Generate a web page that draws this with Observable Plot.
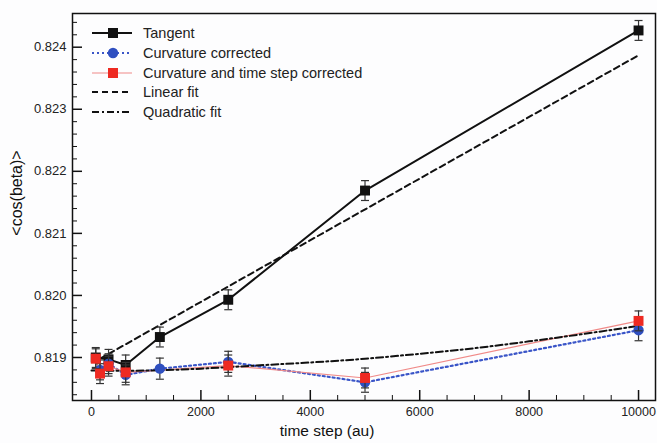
<!DOCTYPE html>
<html><head><meta charset="utf-8">
<script src="https://cdn.jsdelivr.net/npm/d3@7"></script>
<script src="https://cdn.jsdelivr.net/npm/@observablehq/plot@0.6"></script>
<style>
body{margin:0;background:#fdfdfe}
#chart{position:relative;width:657px;height:443px;font-family:"Liberation Sans",Arial,sans-serif}
#chart svg{display:block}
</style>
</head><body><div id="chart"></div>
<script>
// ---- data ----
const tangentX   = [78, 312, 625, 1250, 2500, 5000, 10000];
const tangentY   = [0.81900, 0.81897, 0.81888, 0.81933, 0.81993, 0.82169, 0.82427];
const tangentErr = [0.00016, 0.00016, 0.00016, 0.00016, 0.00016, 0.00016, 0.00016];

const curvX   = [156, 312, 625, 1250, 2500, 5000, 10000];
const curvY   = [0.81880, 0.81890, 0.81872, 0.81882, 0.81893, 0.81860, 0.81944];
const curvErr = [0.00016, 0.00016, 0.00016, 0.00017, 0.00017, 0.00016, 0.00017];

const ctsX   = [78, 156, 312, 625, 2500, 5000, 10000];
const ctsY   = [0.81898, 0.81874, 0.81886, 0.81876, 0.81887, 0.81867, 0.81959];
const ctsErr = [0.00016, 0.00016, 0.00016, 0.00016, 0.00017, 0.00016, 0.00016];

const linFitX = [156, 10000];
const linFitY = [0.81898, 0.82387];

const quadFitX = [0, 1000, 2000, 3000, 4000, 5000, 6000, 7000, 8000, 9000, 10000];
const quadFitY = [0.81879, 0.81879, 0.81882, 0.81887, 0.81892, 0.81898, 0.81906, 0.81915, 0.81926, 0.81938, 0.81951];

const xMajor = [0, 2000, 4000, 6000, 8000, 10000];
const xMinor = d3.range(0, 10001, 500).filter(v => v % 2000 !== 0);
const yMajor = [0.819, 0.820, 0.821, 0.822, 0.823, 0.824];
const yMinor = d3.range(0, 31).map(i => +(0.8184 + i * 0.0002).toFixed(4)).filter(v => Math.round(v * 10000) % 10 !== 0);

const seriesNames = ["Tangent", "Curvature corrected", "Curvature and time step corrected", "Linear fit", "Quadratic fit"];
const xTitle = "time step (au)";
const yTitle = "<cos(beta)>";

const toRows = (xs, ys, es) => xs.map((x, i) => ({x, y: ys[i], e: es ? es[i] : 0}));
const tangent = toRows(tangentX, tangentY, tangentErr);
const curv = toRows(curvX, curvY, curvErr);
const cts = toRows(ctsX, ctsY, ctsErr);
const linFit = toRows(linFitX, linFitY);
const quadFit = toRows(quadFitX, quadFitY);

const W = 657, H = 443, mL = 72, mR = 2, mT = 13, mB = 43;
const fw = W - mL - mR, fh = H - mT - mB;

const BLACK = "#111", BLUE = "#2f4fc0", BLUEDOT = "#3a55c8", RED = "#ee2a22", PINK = "#f08a88";

const cap = {draw(ctx, size) { const r = Math.sqrt(size / Math.PI); ctx.moveTo(-r, 0); ctx.lineTo(r, 0); }};

function errMarks(rows) {
  return [
    Plot.ruleX(rows, {x: "x", y1: d => d.y - d.e, y2: d => d.y + d.e, stroke: "#333", strokeWidth: 1.2}),
    Plot.dot(rows, {x: "x", y: d => d.y + d.e, symbol: cap, r: 4, stroke: "#333", strokeWidth: 1.2, fill: "none"}),
    Plot.dot(rows, {x: "x", y: d => d.y - d.e, symbol: cap, r: 4, stroke: "#333", strokeWidth: 1.2, fill: "none"})
  ];
}

const plot = Plot.plot({
  width: W, height: H,
  marginLeft: mL, marginRight: mR, marginTop: mT, marginBottom: mB,
  style: {background: "transparent", fontFamily: "'Liberation Sans', Arial, sans-serif", color: "#222"},
  x: {domain: [-347, 10310]},
  y: {domain: [0.818307, 0.824543]},
  marks: [
    Plot.tickX(xMajor, {x: d => d, insetTop: fh - 10, stroke: "#111", strokeWidth: 1.5}),
    Plot.tickX(xMinor, {x: d => d, insetTop: fh - 5, stroke: "#111", strokeWidth: 1}),
    Plot.tickY(yMajor, {y: d => d, insetRight: fw - 10, stroke: "#111", strokeWidth: 1.5}),
    Plot.tickY(yMinor, {y: d => d, insetRight: fw - 5, stroke: "#111", strokeWidth: 1}),
    Plot.axisX(xMajor, {tickSize: 0, tickPadding: 7, fontSize: 12.5, label: null, tickFormat: d => String(d)}),
    Plot.axisY(yMajor, {tickSize: 0, tickPadding: 6, fontSize: 13, label: null, tickFormat: d3.format(".3f")}),
    Plot.text([xTitle], {text: d => d, frameAnchor: "bottom", dx: -37, dy: 31, fontSize: 15.5, lineAnchor: "middle", fill: "#111"}),
    Plot.line(tangent, {x: "x", y: "y", stroke: BLACK, strokeWidth: 2}),
    Plot.line(linFit, {x: "x", y: "y", stroke: BLACK, strokeWidth: 2, strokeDasharray: "6,4"}),
    Plot.line(curv, {x: "x", y: "y", stroke: BLUEDOT, strokeWidth: 2.2, strokeDasharray: "2,3"}),
    Plot.line(cts, {x: "x", y: "y", stroke: PINK, strokeWidth: 1.2}),
    Plot.line(quadFit, {x: "x", y: "y", stroke: BLACK, strokeWidth: 2, strokeDasharray: "7,3,2,3", curve: "natural"}),
    ...errMarks(tangent),
    Plot.dot(tangent, {x: "x", y: "y", symbol: "square", r: 5.6, fill: BLACK, stroke: "none"}),
    ...errMarks(curv),
    Plot.dot(curv, {x: "x", y: "y", symbol: "circle", r: 5.2, fill: BLUE, stroke: "none"}),
    ...errMarks(cts),
    Plot.dot(cts, {x: "x", y: "y", symbol: "square", r: 5.6, fill: RED, stroke: "none"}),
    Plot.frame({stroke: "#111", strokeWidth: 1.5})
  ]
});
const chart = document.getElementById("chart");
chart.appendChild(plot);

// overlay: y title + legend
const ov = d3.select(chart).append("svg")
  .attr("width", W).attr("height", H)
  .style("position", "absolute").style("left", "0px").style("top", "0px")
  .style("pointer-events", "none")
  .attr("font-family", "'Liberation Sans', Arial, sans-serif");
ov.append("text").attr("transform", "translate(16,193) rotate(-90)")
  .attr("text-anchor", "middle").attr("dy", "0.35em").attr("font-size", 16).attr("fill", "#111").text(yTitle);

const rowsY = [33, 53, 73, 92, 112];
const styles = [
  {stroke: BLACK, w: 2, dash: null, marker: "square", fill: BLACK},
  {stroke: BLUEDOT, w: 2.2, dash: "2,3", marker: "circle", fill: BLUE},
  {stroke: PINK, w: 1.2, dash: null, marker: "square", fill: RED},
  {stroke: BLACK, w: 2, dash: "6,4", marker: null},
  {stroke: BLACK, w: 2, dash: "7,3,2,3", marker: null}
];
seriesNames.forEach((name, i) => {
  const y = rowsY[i], s = styles[i];
  ov.append("line").attr("x1", 92).attr("x2", 132).attr("y1", y).attr("y2", y)
    .attr("stroke", s.stroke).attr("stroke-width", s.w).attr("stroke-dasharray", s.dash);
  if (s.marker === "square") ov.append("rect").attr("x", 113 - 5).attr("y", y - 5).attr("width", 10).attr("height", 10).attr("fill", s.fill);
  if (s.marker === "circle") ov.append("circle").attr("cx", 113).attr("cy", y).attr("r", 5.2).attr("fill", s.fill);
  ov.append("text").attr("x", 143).attr("y", y).attr("dy", "0.35em")
    .attr("font-size", 14.5).attr("fill", "#222").text(name);
});
</script>
</body></html>
